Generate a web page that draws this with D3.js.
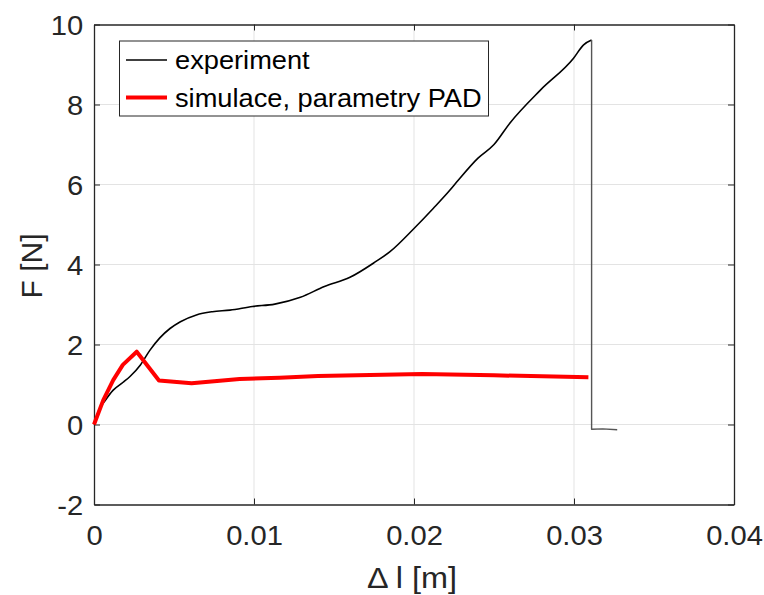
<!DOCTYPE html>
<html>
<head>
<meta charset="utf-8">
<script src="https://cdn.jsdelivr.net/npm/d3@7"></script>
<style>
  body { margin: 0; background: #fff; }
  svg { display: block; font-family: 'Liberation Sans', Arial, sans-serif; }
</style>
</head>
<body>
<svg class="chartSVG" width="764" height="595"></svg>
<script>
// data
const expX = [0, 0.0003, 0.0007, 0.0012, 0.0018, 0.00225, 0.0029, 0.0035, 0.0041, 0.00475,
  0.0054, 0.0064, 0.0074, 0.0085, 0.0099, 0.0113, 0.0129, 0.0144, 0.016, 0.0176,
  0.0185, 0.02, 0.0212, 0.02225, 0.02275, 0.024, 0.025, 0.026, 0.0279, 0.02996,
  0.0306, 0.0311, 0.0311, 0.0318, 0.0327];
const expF = [0, 0.35, 0.6, 0.86, 1.05, 1.2, 1.49, 1.86, 2.16, 2.4,
  2.57, 2.74, 2.82, 2.86, 2.95, 3.01, 3.18, 3.45, 3.68, 4.07,
  4.32, 4.9, 5.4, 5.86, 6.1, 6.66, 7.0, 7.54, 8.36, 9.15,
  9.49, 9.61, -0.12, -0.11, -0.13];
const peakIdx = 31; // last point before the sample breaks

const simX = [0, 0.00058, 0.0012, 0.0018, 0.00267, 0.00406, 0.0061, 0.0091, 0.0116, 0.014, 0.0205, 0.025, 0.0309];
const simF = [0, 0.61, 1.11, 1.49, 1.82, 1.1, 1.03, 1.14, 1.17, 1.21, 1.26, 1.23, 1.18];

const xTicks = [0, 0.01, 0.02, 0.03, 0.04];
const yTicks = [-2, 0, 2, 4, 6, 8, 10];
const seriesNames = ['experiment', 'simulace, parametry PAD'];
const seriesColors = ['#000000', '#ff0000'];
const seriesWidths = [1.6, 4];

const axisCol = '#262626';
const gridCol = '#e3e3e3';
const stretch = 1.08; // reference glyphs are a bit wider than Liberation Sans

const svg = d3.select('svg.chartSVG');

// plot box
const pLeft = 94, pRight = 734, pTop = 24.5, pBottom = 504.5;

const x = d3.scaleLinear().domain([0, 0.04]).range([pLeft, pRight]);
const y = d3.scaleLinear().domain([-2, 10]).range([pBottom, pTop]);

// grid
const gridGrp = svg.append('g').attr('class', 'gridGrp');
gridGrp.selectAll('line.vGrid')
  .data(xTicks.slice(1, -1))
  .enter().append('line')
  .attr('x1', d => x(d)).attr('x2', d => x(d))
  .attr('y1', pTop).attr('y2', pBottom)
  .style('stroke', gridCol).style('stroke-width', 1);
gridGrp.selectAll('line.hGrid')
  .data(yTicks.slice(1, -1))
  .enter().append('line')
  .attr('y1', d => y(d)).attr('y2', d => y(d))
  .attr('x1', pLeft).attr('x2', pRight)
  .style('stroke', gridCol).style('stroke-width', 1);

// axes (ticks inward, Matlab style)
const tickLen = 6;
const fmt = d => String(d);
const axBottom = svg.append('g').attr('transform', `translate(0,${pBottom})`)
  .call(d3.axisBottom(x).tickValues(xTicks).tickSizeInner(-tickLen).tickSizeOuter(0).tickPadding(21).tickFormat(fmt));
const axLeft = svg.append('g').attr('transform', `translate(${pLeft},0)`)
  .call(d3.axisLeft(y).tickValues(yTicks).tickSizeInner(-tickLen).tickSizeOuter(0).tickPadding(10).tickFormat(fmt));
const axTop = svg.append('g').attr('transform', `translate(0,${pTop})`)
  .call(d3.axisTop(x).tickValues(xTicks).tickSizeInner(-tickLen).tickSizeOuter(0).tickFormat(''));
const axRight = svg.append('g').attr('transform', `translate(${pRight},0)`)
  .call(d3.axisRight(y).tickValues(yTicks).tickSizeInner(-tickLen).tickSizeOuter(0).tickFormat(''));

[axBottom, axLeft, axTop, axRight].forEach(a => {
  a.select('.domain').style('stroke', axisCol).style('stroke-width', 1.3);
  a.selectAll('.tick line').style('stroke', axisCol).style('stroke-width', 1);
  a.selectAll('.tick text')
    .style('font-family', "'Liberation Sans', Arial, sans-serif")
    .style('font-size', '27px')
    .style('fill', axisCol)
    .attr('transform', `scale(${stretch},1)`);
});
axBottom.selectAll('.tick text').attr('dy', '0.71em');
axLeft.selectAll('.tick text').attr('dy', '0.38em');

// lines
const expPts = d3.zip(expX, expF);
const smoothLine = d3.line().x(d => x(d[0])).y(d => y(d[1])).curve(d3.curveMonotoneX);
const line = d3.line().x(d => x(d[0])).y(d => y(d[1]));
const lineGrp = svg.append('g').attr('class', 'lineGrp');
lineGrp.append('path')
  .attr('d', smoothLine(expPts.slice(0, peakIdx + 1)))
  .style('fill', 'none').style('stroke', seriesColors[0])
  .style('stroke-width', seriesWidths[0]).style('stroke-linejoin', 'round');
lineGrp.append('path')
  .attr('d', line(expPts.slice(peakIdx)))
  .style('fill', 'none').style('stroke', '#555')
  .style('stroke-width', 1.4).style('stroke-linejoin', 'round');
lineGrp.append('path')
  .attr('d', line(d3.zip(simX, simF)))
  .style('fill', 'none').style('stroke', seriesColors[1])
  .style('stroke-width', seriesWidths[1]).style('stroke-linejoin', 'round');

// axis labels
svg.append('text')
  .attr('transform', `translate(412,588) scale(${stretch},1)`)
  .attr('text-anchor', 'middle')
  .style('font-size', '30px').style('fill', axisCol)
  .text('Δ l [m]');
svg.append('text')
  .attr('transform', 'translate(42,266) rotate(-90)')
  .attr('text-anchor', 'middle')
  .style('font-size', '30px').style('fill', axisCol)
  .text('F [N]');

// legend
const legendGrp = svg.append('g').attr('class', 'legendGrp');
legendGrp.append('rect')
  .attr('x', 119.5).attr('y', 41).attr('width', 369).attr('height', 75)
  .style('fill', '#fff').style('stroke', axisCol).style('stroke-width', 1);
const legItems = legendGrp.selectAll('g.legItem')
  .data(seriesNames)
  .enter().append('g')
  .attr('class', 'legItem')
  .attr('transform', (d, i) => `translate(0,${i === 0 ? 60 : 97.5})`);
legItems.append('line')
  .attr('x1', 126).attr('x2', 167)
  .style('stroke', (d, i) => seriesColors[i])
  .style('stroke-width', (d, i) => i === 0 ? 1.3 : seriesWidths[i]);
legItems.append('text')
  .attr('transform', `translate(175,0) scale(1.09,1)`)
  .attr('dy', '0.37em')
  .style('font-size', '25px').style('fill', '#000')
  .text(d => d);
</script>
</body>
</html>
